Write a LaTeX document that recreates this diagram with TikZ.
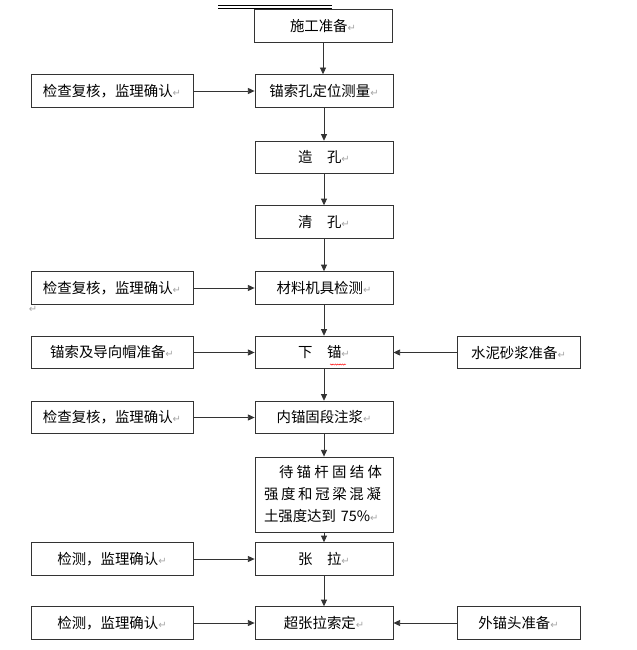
\documentclass[tikz,border=0pt]{standalone}
\usepackage{fontspec}
\setmainfont{Noto Sans CJK SC}
\newfontfamily\symfont{DejaVu Sans}
\usetikzlibrary{arrows.meta,decorations.pathmorphing}

% paragraph mark as shown in the source
\newcommand{\ret}{{\symfont\fontsize{8.5}{8.5}\selectfont\color{black!35}↵}}

\begin{document}
\begin{tikzpicture}[
  x=0.03cm, y=-0.03cm,
  font=\fontsize{12.3}{15}\selectfont,
  box/.style={draw=black!80, line width=0.7pt, align=center, minimum width=4.14cm, minimum height=0.98cm, text=black},
  sidebox/.style={box, minimum width=4.86cm},
  rightbox/.style={box, minimum width=3.69cm},
  arrow/.style={-{Triangle[length=2mm,width=1.8mm]}, line width=0.7pt, draw=black!80}
]
\useasboundingbox (0,0) rectangle (636,650);

% main column
\node[box] (prep) at (323,26) {施工准备\ret};
\node[box] (survey) at (324,91) {锚索孔定位测量\ret};
\node[box] (drill) at (324,157.5) {造\quad 孔\ret};
\node[box] (clean) at (324,222) {清\quad 孔\ret};
\node[box] (mater) at (324,288) {材料机具检测\ret};
\node[box] (anchor) at (324,352.5) {下\quad 锚\ret};
\node[box] (grout) at (324,417.5) {内锚固段注浆\ret};
\node[box, minimum height=2.25cm, text width=3.6cm, align=left, font=\fontsize{12.3}{18.8}\selectfont] (wait) at (324,494.5)
  {\hspace*{0.45cm}\makebox[3.09cm][s]{待\hfill 锚\hfill 杆\hfill 固\hfill 结\hfill 体}\\
   \makebox[3.51cm][s]{强\hfill 度\hfill 和\hfill 冠\hfill 梁\hfill 混\hfill 凝}\\
   土强度达到 75\%\ret};
\node[box] (tension) at (324,559) {张\quad 拉\ret};
\node[box] (lock) at (324,623) {超张拉索定\ret};

% left inputs
\node[sidebox] (chk1) at (112,91) {检查复核，监理确认\ret};
\node[sidebox] (chk2) at (112,288) {检查复核，监理确认\ret};
\node[sidebox] (cable) at (112,352.5) {锚索及导向帽准备\ret};
\node[sidebox] (chk3) at (112,417.5) {检查复核，监理确认\ret};
\node[sidebox] (test1) at (112,559) {检测，监理确认\ret};
\node[sidebox] (test2) at (112,623) {检测，监理确认\ret};

% right inputs
\node[rightbox] (mortar) at (518.5,352.5) {水泥砂浆准备\ret};
\node[rightbox] (head) at (518.5,623) {外锚头准备\ret};

\draw[arrow] (prep.south) -- (prep.south |- survey.north);
\draw[arrow] (survey) -- (drill);
\draw[arrow] (drill) -- (clean);
\draw[arrow] (clean) -- (mater);
\draw[arrow] (mater) -- (anchor);
\draw[arrow] (anchor) -- (grout);
\draw[arrow] (grout) -- (wait);
\draw[arrow] (wait) -- (tension);
\draw[arrow] (tension) -- (lock);

\draw[arrow] (chk1) -- (survey);
\draw[arrow] (chk2) -- (mater);
\draw[arrow] (cable) -- (anchor);
\draw[arrow] (chk3) -- (grout);
\draw[arrow] (test1) -- (tension);
\draw[arrow] (test2) -- (lock);
\draw[arrow] (mortar) -- (anchor);
\draw[arrow] (head) -- (lock);

% stray marks of the source page
\draw[line width=0.6pt] (218,5) -- (332,5);
\draw[line width=0.4pt] (218,8.5) -- (332,8.5);
\node[inner sep=0] (stray) at (33,309) {\ret};
\draw[red, line width=0.4pt, decorate, decoration={snake, amplitude=0.5pt, segment length=2pt}] (330,364.5) -- (346,364.5);

\end{tikzpicture}
\end{document}
